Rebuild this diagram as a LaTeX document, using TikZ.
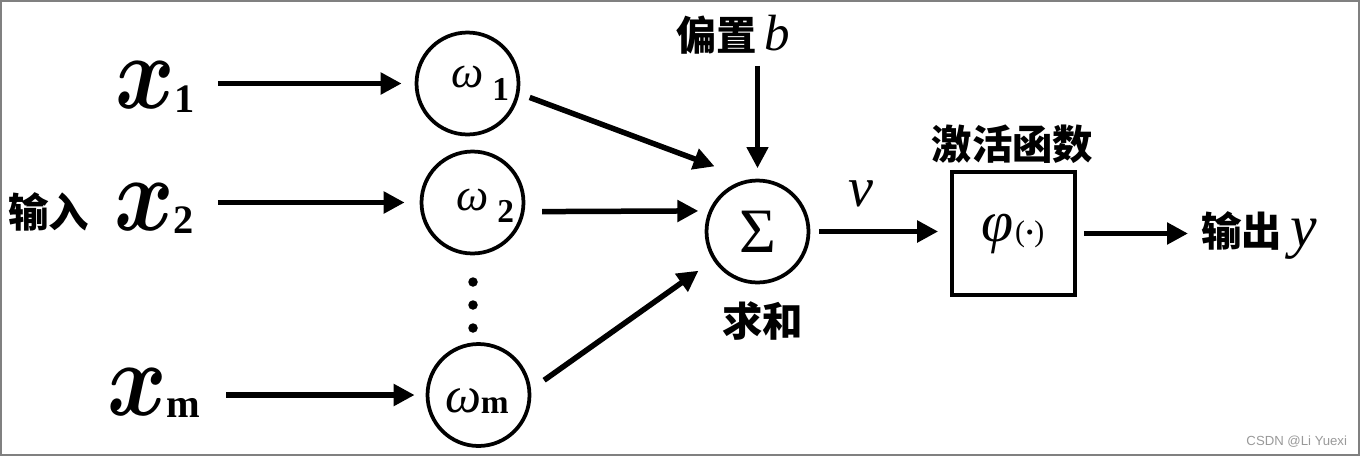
\documentclass[tikz,border=0pt]{standalone}
\usepackage{fix-cm}
\usepackage{fontspec}
\setmainfont{Liberation Serif}
\newfontfamily\cjk{Noto Sans CJK SC}
\newfontfamily\wmfont{Liberation Sans}
\usetikzlibrary{arrows.meta,calc}
\newcommand{\fsz}[1]{\fontsize{#1}{#1}\selectfont}
\newcommand{\bigx}{\scalebox{0.86}[1]{\boldmath$x$}}
\begin{document}
\begin{tikzpicture}[x=0.02cm,y=-0.02cm,
  arr/.style={-{Triangle[length=0.42cm,width=0.42cm]}, line width=0.11cm},
  wcirc/.style={circle, draw, line width=0.075cm, minimum size=2.04cm, inner sep=0pt},
  txt/.style={inner sep=0pt, outer sep=0pt},
  cjklabel/.style={txt, font=\cjk\bfseries\fsz{23}},
  xlabel/.style={txt, anchor=base west, font=\fsz{60}},
  wlabel/.style={txt, anchor=base west, font=\itshape\fsz{26}}
]
\useasboundingbox (0,0) rectangle (1361,457);
\draw[gray, line width=0.04cm] (1,1) rectangle (1359,455);

% inputs
\node[cjklabel] (inp) at (48.5,212) {输入};
\node[xlabel] (x1) at (115,108) {\bigx\raisebox{-0.08cm}{\upshape\bfseries\fsz{23}1}};
\node[xlabel] (x2) at (114,230) {\bigx\raisebox{-0.06cm}{\upshape\bfseries\fsz{23}2}};
\node[xlabel] (xm) at (107,415) {\bigx\raisebox{-0.05cm}{\upshape\bfseries\fsz{23}m}};

% weight circles
\node[wcirc] (w1) at (467.5,83.5) {};
\node[wcirc] (w2) at (472.5,202.5) {};
\node[wcirc] (wmc) at (478.5,395) {};
\node[wlabel] (w1t) at (451,87) {ω\hspace{0.18cm}\raisebox{-0.26cm}{\upshape\bfseries\fsz{19}1}};
\node[wlabel] (w2t) at (456,210) {ω\hspace{0.18cm}\raisebox{-0.24cm}{\upshape\bfseries\fsz{19}2}};
\node[wlabel, font=\itshape\fsz{29}] (wmt) at (445,412) {ω\raisebox{-0.02cm}{\upshape\bfseries\fsz{19}m}};
\foreach \yy in {282,305,328} \fill (473,\yy) circle[radius=0.095cm];

% summation
\node[wcirc, font=\fsz{36}] (sigma) at (757.5,231.5) {Σ};
\node[cjklabel] (sum) at (762.5,321) {求和};
\node[txt, anchor=base west] (bias) at (676,50) {{\cjk\bfseries\fsz{23}偏置}\hspace{0.16cm}{\itshape\fsz{29}b}};
\node[txt, font=\itshape\fsz{32}] (v) at (861,194) {v};

% activation
\node[draw, line width=0.075cm, minimum width=2.46cm, minimum height=2.46cm, inner sep=0pt] (box) at (1013.5,233.5) {};
\node[cjklabel] (act) at (1012.5,144) {激活函数};
\node[txt, anchor=base west] (phi) at (981,241) {{\itshape\fsz{33}φ}\hspace{0.04cm}{\fsz{17}(\hspace{0.02cm}\raisebox{0.04cm}{\fsz{12}•}\hspace{0.02cm})}};
\node[txt, anchor=base west] (out) at (1201,246) {{\cjk\bfseries\fsz{23}输出}\hspace{0.18cm}{\itshape\fsz{34}y}};

% watermark
\node[txt, anchor=east, font=\wmfont\fsz{7.5}, text=gray!80] (csdn) at (1347,442) {CSDN @Li Yuexi};

% connectors
\draw[arr, shorten <=0.46cm, shorten >=0.26cm] (x1.east |- w1) -- (w1);
\draw[arr, shorten <=0.48cm, shorten >=0.30cm] (x2.east |- w2) -- (w2);
\draw[arr, shorten <=0.52cm, shorten >=0.22cm] (xm.east |- wmc) -- (wmc);
\draw[arr, shorten <=0.22cm, shorten >=0.74cm] (w1.-11.2) -- (sigma.99);
\draw[arr, shorten <=0.35cm, shorten >=0.21cm] (w2.-10.9) -- (sigma.157.6);
\draw[arr, shorten <=0.32cm, shorten >=0.36cm] (wmc.6.5) -- (sigma.213.4);
\draw[arr, line width=0.09cm, shorten <=0.24cm, shorten >=0.21cm] (bias.south -| sigma) -- (sigma);
\draw[arr, shorten <=0.17cm, shorten >=0.24cm] (sigma.east) -- (sigma.east -| box.west);
\draw[arr, shorten <=0.14cm, shorten >=0.26cm] (box.east) -- (box.east -| out.west);
\end{tikzpicture}
\end{document}
